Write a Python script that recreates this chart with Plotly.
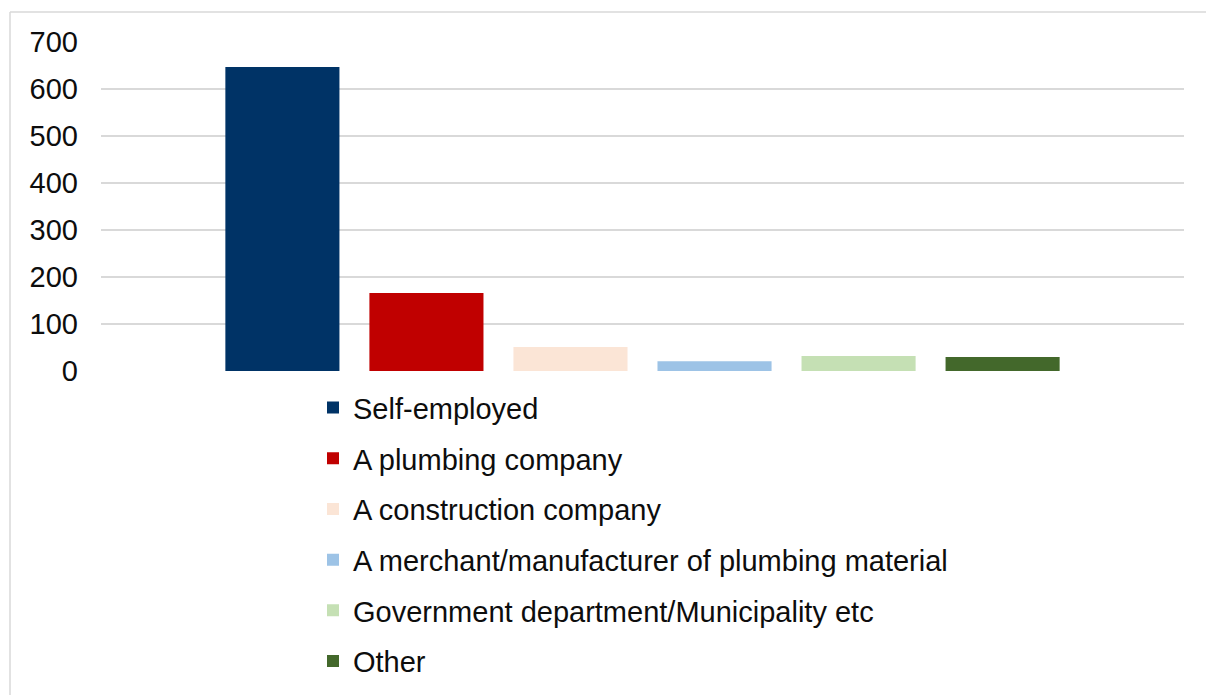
import plotly.graph_objects as go

# Employer types and respondent counts
employers = [
    "Self-employed",
    "A plumbing company",
    "A construction company",
    "A merchant/manufacturer of plumbing material",
    "Government department/Municipality etc",
    "Other",
]
counts = [647, 166, 51, 21, 32, 30]
colors = ["#003366", "#C00000", "#FBE5D6", "#9DC3E6", "#C5E0B4", "#43682B"]
y_ticks = [0, 100, 200, 300, 400, 500, 600, 700]

FONT = "Liberation Sans, Arial, sans-serif"

fig = go.Figure()
for i, (name, val, col) in enumerate(zip(employers, counts, colors)):
    fig.add_trace(go.Bar(
        x=["Employer"],
        y=[val],
        name=name,
        marker=dict(color=col, line=dict(width=0)),
        legendgroup=f"g{i}",
    ))

W, H = 1206, 695
ml, mr, mt, mb = 101, 22, 42, 324

fig.update_layout(
    width=W,
    height=H,
    margin=dict(l=ml, r=mr, t=mt, b=mb, pad=0, autoexpand=False),
    paper_bgcolor="white",
    plot_bgcolor="white",
    barmode="group",
    bargap=0.202,
    bargroupgap=0.208,
    font=dict(family=FONT, size=29, color="#0d0d0d"),
    showlegend=True,
    legend=dict(
        orientation="v",
        x=(313 - ml) / (W - ml - mr),
        xanchor="left",
        y=-0.034,
        yanchor="top",
        font=dict(family=FONT, size=29, color="#0d0d0d"),
        traceorder="grouped",
        tracegroupgap=10,
        bgcolor="rgba(0,0,0,0)",
    ),
    xaxis=dict(
        showticklabels=False,
        showgrid=False,
        zeroline=False,
        showline=False,
        ticks="",
    ),
    yaxis=dict(
        range=[0, 700],
        tickvals=y_ticks,
        showgrid=True,
        gridcolor="#d9d9d9",
        gridwidth=1.5,
        zeroline=False,
        showline=False,
        ticks="",
        ticklabelstandoff=22,
        tickfont=dict(family=FONT, size=29, color="#0d0d0d"),
    ),
    shapes=[
        # outer frame edges (left and top)
        dict(type="line", xref="paper", yref="paper",
             x0=-(ml - 10) / (W - ml - mr), x1=(W - ml) / (W - ml - mr),
             y0=(H - mb - 12) / (H - mt - mb), y1=(H - mb - 12) / (H - mt - mb),
             line=dict(color="#d9d9d9", width=1.5)),
        dict(type="line", xref="paper", yref="paper",
             x0=-(ml - 10) / (W - ml - mr), x1=-(ml - 10) / (W - ml - mr),
             y0=(H - mb - 12) / (H - mt - mb), y1=-mb / (H - mt - mb),
             line=dict(color="#d9d9d9", width=1.5)),
    ],
)

fig.write_html("out.html")
